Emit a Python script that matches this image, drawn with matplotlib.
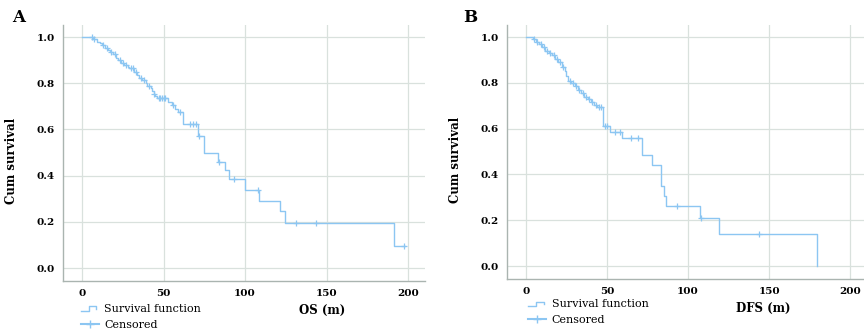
import matplotlib.pyplot as plt
import numpy as np
from matplotlib.lines import Line2D
from matplotlib.legend_handler import HandlerBase

# Panel A - overall survival (KM steps)
os_times = [7, 9, 11, 12, 14, 16, 17, 19, 21, 22, 24, 26, 28, 29, 32, 34, 35, 37, 39, 40,
            42, 43, 44, 45, 46, 53, 55, 57, 59, 62, 71, 75, 83.5, 88, 90, 100, 108.5,
            121.5, 124.5, 191.5]
os_surv = [0.99, 0.98, 0.975, 0.965, 0.955, 0.945, 0.935, 0.925, 0.91, 0.90, 0.89, 0.88,
           0.87, 0.865, 0.85, 0.835, 0.825, 0.815, 0.80, 0.79, 0.78, 0.765, 0.755, 0.745,
           0.735, 0.72, 0.705, 0.69, 0.675, 0.625, 0.57, 0.50, 0.46, 0.425, 0.385, 0.34,
           0.29, 0.245, 0.195, 0.095]
os_end = 198
os_censored = [6, 7.5, 13, 15, 18, 20, 23, 25, 27, 30, 31, 33, 36, 38, 41, 44, 47, 48, 49,
               50, 51, 56, 60, 66, 68, 70, 72, 84, 93, 108, 131, 143.5, 197.5]

# Panel B - disease free survival
dfs_times = [4.5, 6, 8, 10, 12, 14, 16, 18, 20, 22, 24, 25, 26, 28, 30, 32, 34, 36, 38, 40,
             42, 44, 47.7, 51.8, 59, 71.4, 77.6, 83.3, 85, 86.5, 107.6, 118.9, 179.6]
dfs_surv = [0.99, 0.98, 0.97, 0.955, 0.94, 0.93, 0.92, 0.905, 0.89, 0.87, 0.85, 0.83, 0.81,
            0.80, 0.785, 0.77, 0.755, 0.74, 0.73, 0.715, 0.705, 0.695, 0.61, 0.585, 0.56,
            0.485, 0.44, 0.35, 0.305, 0.26, 0.21, 0.14, 0.0]
dfs_end = 179.6
dfs_censored = [5, 7, 9, 11, 13, 15, 17, 19, 21, 23, 27, 29, 31, 33, 35, 37, 39, 41, 43, 45,
                46, 49, 50, 55, 58, 65, 69, 93, 108, 144]

xticks = [0, 50, 100, 150, 200]
yticks = [0.0, 0.2, 0.4, 0.6, 0.8, 1.0]

line_col = '#8cc6f2'
grid_col = '#d9e1dd'
spine_col = '#aab4b0'
plt.rcParams['font.family'] = ['DejaVu Serif']


class StepHandler(HandlerBase):
    def create_artists(self, legend, orig_handle, xdescent, ydescent, width, height, fontsize, trans):
        x0 = -xdescent
        y0 = -ydescent
        xs = [x0, x0 + width * 0.45, x0 + width * 0.45, x0 + width * 0.85, x0 + width * 0.85]
        ys = [y0 + height * 0.2, y0 + height * 0.2, y0 + height * 0.75, y0 + height * 0.75, y0 + height * 0.45]
        ln = Line2D(xs, ys, color=line_col, lw=1.0, transform=trans)
        return [ln]


def km_plot(ax, times, surv, end, cens, xlabel, xl, yl, leg_anchor, xlab_pos):
    t = np.concatenate([[0], times, [end]])
    s = np.concatenate([[1.0], surv, [surv[-1]]])
    ax.step(t, s, where='post', color=line_col, lw=1.0, zorder=3)
    idx = np.searchsorted(t, cens, side='right') - 1
    ax.plot(cens, s[idx], '+', color=line_col, ms=4, mew=0.9, zorder=3)

    ax.set_xlim(xl)
    ax.set_ylim(yl)
    ax.set_xticks(xticks)
    ax.set_yticks(yticks)
    ax.set_yticklabels(['%.1f' % v for v in yticks])
    ax.tick_params(length=0, labelsize=7.5, pad=6)
    for lab in ax.get_xticklabels() + ax.get_yticklabels():
        lab.set_fontweight('bold')
    ax.grid(True, color=grid_col, lw=0.9, zorder=0)
    for sp in ['top', 'right']:
        ax.spines[sp].set_visible(False)
    for sp in ['left', 'bottom']:
        ax.spines[sp].set_color(spine_col)
        ax.spines[sp].set_linewidth(1.0)
    ax.set_ylabel('Cum survival', fontsize=8.5, fontweight='bold')
    ax.yaxis.set_label_coords(-0.125, 0.47)
    ax.set_xlabel(xlabel, fontsize=8.5, fontweight='bold')
    ax.xaxis.set_label_coords(xlab_pos, -0.09)

    handles = [Line2D([], [], color=line_col), Line2D([], [], color=line_col, marker='+', ms=6)]
    ax.legend(handles, ['Survival function', 'Censored'], loc='upper left',
              bbox_to_anchor=leg_anchor, frameon=False, fontsize=8,
              handler_map={handles[0]: StepHandler()}, handlelength=1.6,
              handletextpad=0.5, labelspacing=0.5, borderpad=0, borderaxespad=0)


fig = plt.figure(figsize=(8.64, 3.35), dpi=100)
ax1 = fig.add_axes([0.0729, 0.161, 0.419, 0.764])
ax2 = fig.add_axes([0.5868, 0.167, 0.4132, 0.758])

km_plot(ax1, os_times, os_surv, os_end, os_censored, 'OS (m)',
        (-11.7, 210.4), (-0.0565, 1.052), (0.05, -0.09), 0.715)
km_plot(ax2, dfs_times, dfs_surv, dfs_end, dfs_censored, 'DFS (m)',
        (-11.7, 208.6), (-0.057, 1.052), (0.06, -0.08), 0.717)

fig.text(12 / 864, 1 - 18 / 335, 'A', fontsize=12, fontweight='bold', va='center', ha='left')
fig.text(463 / 864, 1 - 18 / 335, 'B', fontsize=12, fontweight='bold', va='center', ha='left')

fig.savefig('out.png', dpi=100)
